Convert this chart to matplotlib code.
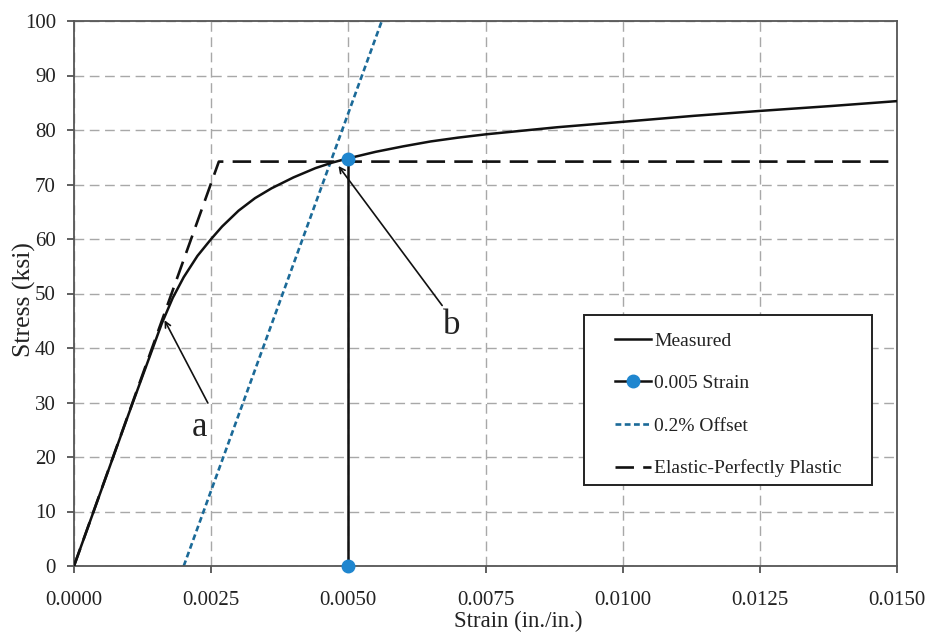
import numpy as np
from matplotlib import pyplot as plt
from matplotlib.patches import Rectangle

plt.rcParams['font.family'] = ['Liberation Serif', 'DejaVu Serif']

strain_meas = [0.0, 0.0005, 0.0010, 0.0014, 0.0016, 0.0018, 0.0020, 0.00225, 0.0025,
               0.0027, 0.0030, 0.0033, 0.0036, 0.0040, 0.0044, 0.0047, 0.0050,
               0.0055, 0.0060, 0.0065, 0.0070, 0.0075, 0.0088, 0.0100, 0.0113,
               0.0125, 0.0138, 0.0150]
stress_meas = [0.0, 14.0, 28.0, 39.0, 44.5, 49.2, 53.0, 56.9, 60.0,
               62.3, 65.2, 67.5, 69.3, 71.3, 73.0, 74.0, 74.8,
               76.0, 77.0, 77.9, 78.6, 79.2, 80.5, 81.5, 82.6,
               83.5, 84.4, 85.3]

# 0.005 Dehnung
strain_005 = [0.005, 0.005]
stress_005 = [0.0, 74.6]

# 0.2% Offset
strain_off = [0.0020, 0.00561]
stress_off = [0.0, 100.0]

# elastisch-ideal plastisch
strain_epp = [0.0, 0.00264, 0.015]
stress_epp = [0.0, 74.2, 74.2]

xticks = [0.0, 0.0025, 0.005, 0.0075, 0.010, 0.0125, 0.015]
yticks = list(range(0, 101, 10))

fig = plt.figure(figsize=(9.28, 6.33), dpi=100)
ax = fig.add_axes([74 / 928, 1 - 566 / 633, 823 / 928, 545 / 633])

ax.grid(True, color='#a8a8a8', linestyle=(0, (7, 4)), linewidth=1.0, zorder=0)
ax.set_axisbelow(True)

l_off, = ax.plot(strain_off, stress_off, color='#1b6a98', linewidth=1.9,
                 dashes=(2.2, 1.3), label='0.2% Offset', zorder=2)
l_epp, = ax.plot(strain_epp, stress_epp, color='#111111', linewidth=1.9,
                 dashes=(7, 3.5), label='Elastic-Perfectly Plastic', zorder=3)
l_meas, = ax.plot(strain_meas, stress_meas, color='#111111', linewidth=1.8,
                  label='Measured', zorder=4)
l_005, = ax.plot(strain_005, stress_005, color='#111111', linewidth=1.8,
                 marker='o', markersize=9, markerfacecolor='#1f86cf',
                 markeredgecolor='#1f86cf', label='0.005 Strain', zorder=5, clip_on=False)

# Pfeile a und b
arrow = dict(arrowstyle='->,head_length=0.4,head_width=0.2', color='#111111',
             linewidth=1.2, shrinkA=0, shrinkB=0)
ax.annotate('', xy=(0.00165, 45.1), xytext=(0.00244, 29.9), arrowprops=arrow, zorder=6)
ax.annotate('', xy=(0.00482, 73.4), xytext=(0.00671, 47.8), arrowprops=arrow, zorder=6)
ax.text(0.00229, 25.5, 'a', fontsize=25, ha='center', va='center', color='#222222')
ax.text(0.00689, 44.2, 'b', fontsize=25, ha='center', va='center', color='#222222')

ax.set_xlim(0, 0.015)
ax.set_ylim(0, 100)
ax.set_xticks(xticks)
ax.set_yticks(yticks)
ax.set_xticklabels(['%.4f' % t for t in xticks])
ax.tick_params(axis='both', direction='out', length=5, width=1.2, colors='#444444',
               labelcolor='#222222', labelsize=15)
ax.tick_params(axis='x', pad=13)
ax.tick_params(axis='y', pad=8)

for s in ax.spines.values():
    s.set_color('#555555')
    s.set_linewidth(1.3)

ax.set_xlabel('Strain (in./in.)', fontsize=16.5, color='#222222')
ax.set_ylabel('Stress (ksi)', fontsize=18.5, color='#222222')
ax.xaxis.set_label_coords(0.5395, -0.083)
ax.yaxis.set_label_coords(-0.046, 0.488)

# Legende mit eigenem Rahmen
ax.add_patch(Rectangle((0.620, 0.149), 0.350, 0.312, transform=ax.transAxes,
                       facecolor='white', edgecolor='#222222', linewidth=1.4, zorder=7))
leg = ax.legend(handles=[l_meas, l_005, l_off, l_epp], loc='center',
                bbox_to_anchor=(0.795, 0.296), frameon=False, fontsize=14,
                handlelength=1.9, handletextpad=0.15, labelspacing=1.28,
                numpoints=1, borderpad=0.3)
leg.set_zorder(8)
for t in leg.get_texts():
    t.set_color('#222222')

plt.savefig('out.png', dpi=100)
